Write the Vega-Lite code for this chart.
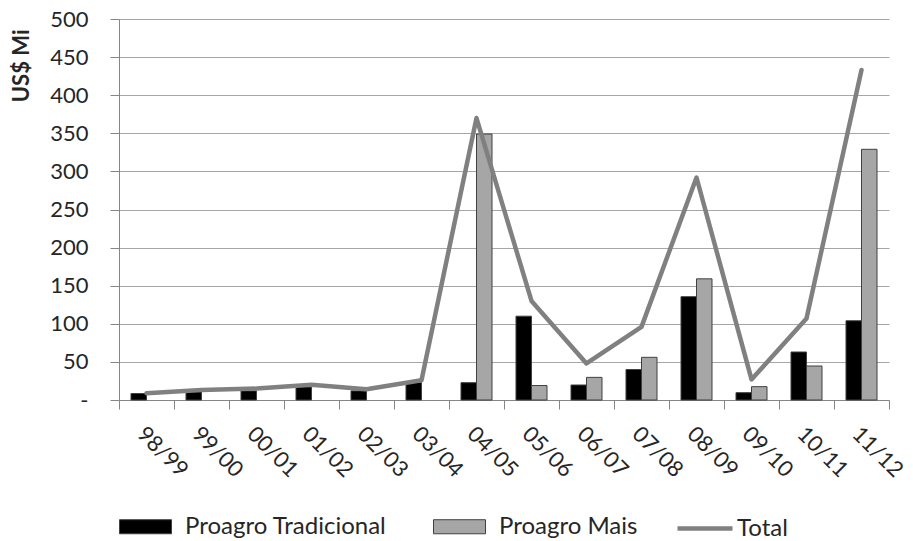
{
  "$schema": "https://vega.github.io/schema/vega-lite/v6.json",
  "width": 770,
  "height": 381,
  "autosize": {"type": "none"},
  "padding": {"left": 119, "top": 19, "right": 24, "bottom": 141},
  "background": "white",
  "config": {
    "font": "Lato",
    "view": {"stroke": null}
  },
  "datasets": {
    "bars": [
      {"safra": "98/99", "series": "Proagro Tradicional", "valor": 8.5},
      {"safra": "99/00", "series": "Proagro Tradicional", "valor": 11},
      {"safra": "00/01", "series": "Proagro Tradicional", "valor": 12},
      {"safra": "01/02", "series": "Proagro Tradicional", "valor": 17.5},
      {"safra": "02/03", "series": "Proagro Tradicional", "valor": 12},
      {"safra": "03/04", "series": "Proagro Tradicional", "valor": 23},
      {"safra": "04/05", "series": "Proagro Tradicional", "valor": 22.7},
      {"safra": "05/06", "series": "Proagro Tradicional", "valor": 110},
      {"safra": "06/07", "series": "Proagro Tradicional", "valor": 19.7},
      {"safra": "07/08", "series": "Proagro Tradicional", "valor": 40},
      {"safra": "08/09", "series": "Proagro Tradicional", "valor": 135.6},
      {"safra": "09/10", "series": "Proagro Tradicional", "valor": 9.6},
      {"safra": "10/11", "series": "Proagro Tradicional", "valor": 63},
      {"safra": "11/12", "series": "Proagro Tradicional", "valor": 104},
      {"safra": "04/05", "series": "Proagro Mais", "valor": 349},
      {"safra": "05/06", "series": "Proagro Mais", "valor": 19},
      {"safra": "06/07", "series": "Proagro Mais", "valor": 29.7},
      {"safra": "07/08", "series": "Proagro Mais", "valor": 56},
      {"safra": "08/09", "series": "Proagro Mais", "valor": 159},
      {"safra": "09/10", "series": "Proagro Mais", "valor": 17.5},
      {"safra": "10/11", "series": "Proagro Mais", "valor": 44.6},
      {"safra": "11/12", "series": "Proagro Mais", "valor": 329}
    ],
    "total": [
      {"n": 1, "safra": "98/99", "valor": 9},
      {"n": 2, "safra": "99/00", "valor": 13},
      {"n": 3, "safra": "00/01", "valor": 15},
      {"n": 4, "safra": "01/02", "valor": 20},
      {"n": 5, "safra": "02/03", "valor": 14},
      {"n": 6, "safra": "03/04", "valor": 26},
      {"n": 7, "safra": "04/05", "valor": 370},
      {"n": 8, "safra": "05/06", "valor": 130},
      {"n": 9, "safra": "06/07", "valor": 48},
      {"n": 10, "safra": "07/08", "valor": 96},
      {"n": 11, "safra": "08/09", "valor": 292},
      {"n": 12, "safra": "09/10", "valor": 27},
      {"n": 13, "safra": "10/11", "valor": 107},
      {"n": 14, "safra": "11/12", "valor": 433}
    ]
  },
  "encoding": {
    "x": {
      "field": "safra", "type": "nominal",
      "scale": {"domain": ["98/99","99/00","00/01","01/02","02/03","03/04","04/05","05/06","06/07","07/08","08/09","09/10","10/11","11/12"], "paddingInner": 0, "paddingOuter": 0},
      "axis": {
        "title": null, "labelAngle": 45, "labelAlign": "left", "labelBaseline": "middle",
        "labelFontSize": 22, "labelColor": "#262626", "labelPadding": 21, "labelOverlap": false, "labelOffset": -6,
        "tickSize": 9, "tickBand": "extent", "tickColor": "#868686", "domainColor": "#868686", "grid": false
      }
    },
    "y": {
      "field": "valor", "type": "quantitative",
      "scale": {"domain": [0, 500], "nice": false},
      "axis": {
        "title": "US$ Mi", "titleFontSize": 22, "titleFontWeight": "bold", "titleColor": "#262626",
        "titleAngle": 270, "titleAlign": "right", "titleBaseline": "middle", "titleX": -98, "titleY": 10,
        "tickCount": 11,
        "tickMinStep": 50,
        "labelOverlap": false,
        "labelExpr": "datum.value === 0 ? '-   ' : datum.label",
        "labelFontSize": 22, "labelColor": "#262626", "labelPadding": 22,
        "tickSize": 9, "tickColor": "#868686", "domainColor": "#868686",
        "grid": true, "gridColor": "#a6a6a6", "gridWidth": 1
      }
    }
  },
  "layer": [
    {
      "data": {"name": "bars"},
      "mark": {"type": "bar", "stroke": "#404040", "strokeWidth": 1},
      "encoding": {
        "xOffset": {
          "field": "series", "type": "nominal",
          "scale": {"domain": ["Proagro Tradicional", "Proagro Mais"], "paddingInner": 0, "paddingOuter": 0.774}
        },
        "color": {
          "field": "series", "type": "nominal",
          "scale": {"domain": ["Proagro Tradicional", "Proagro Mais"], "range": ["#000000", "#a6a6a6"]},
          "legend": {
            "orient": "none", "legendX": 0, "legendY": 481, "direction": "horizontal",
            "title": null, "padding": 0, "symbolType": "M-1,-0.27H1V0.27H-1Z", "symbolSize": 2704,
            "symbolStrokeColor": "#404040", "symbolStrokeWidth": 1, "symbolOpacity": 1,
            "labelOffset": 13, "columnPadding": 44,
            "labelFontSize": 24, "labelFont": "Lato", "labelColor": "#262626", "labelLimit": 400
          }
        }
      }
    },
    {
      "data": {"name": "total"},
      "mark": {"type": "line", "strokeWidth": 4.5, "strokeJoin": "round", "strokeCap": "round"},
      "encoding": {
        "order": {"field": "n", "type": "quantitative"},
        "stroke": {
          "datum": "Total", "type": "nominal",
          "scale": {"domain": ["Total"], "range": ["#808080"]},
          "legend": {
            "orient": "none", "legendX": 556, "legendY": 479.5, "direction": "horizontal",
            "title": null, "padding": 0, "symbolType": "M-1,0H1", "symbolSize": 3025,
            "symbolStrokeWidth": 4.5, "symbolStrokeColor": "#808080", "symbolOpacity": 1,
            "labelOffset": 2,
            "labelFontSize": 24, "labelFont": "Lato", "labelColor": "#262626", "labelLimit": 400
          }
        }
      }
    }
  ]
}
